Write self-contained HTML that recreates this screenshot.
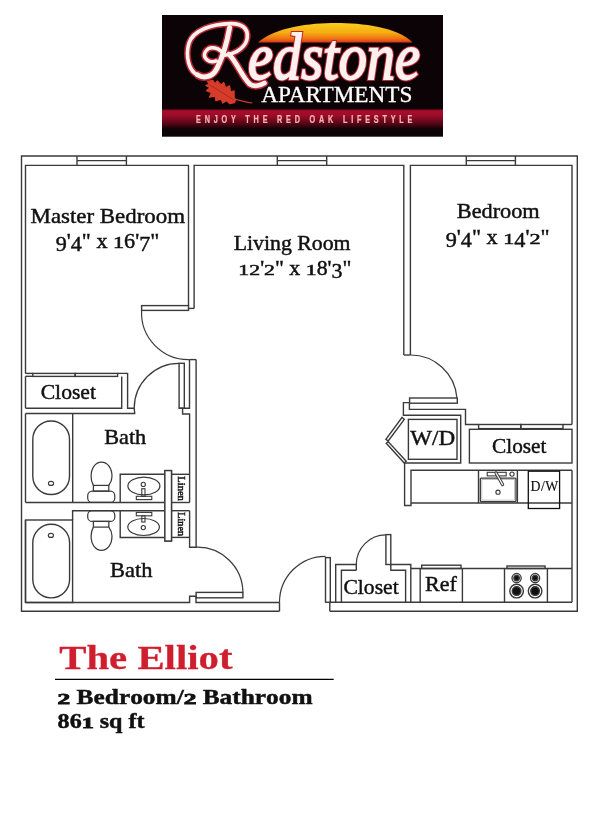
<!DOCTYPE html>
<html><head><meta charset="utf-8"><style>
html,body{margin:0;padding:0;background:#fff;width:608px;height:824px;overflow:hidden}
svg{display:block;will-change:transform}
</style></head><body>
<svg width="608" height="824" viewBox="0 0 608 824">
<rect width="608" height="824" fill="#fff"/>

<defs>
 <linearGradient id="sun" x1="0" y1="0" x2="0" y2="1">
  <stop offset="0" stop-color="#f9cf1e"/>
  <stop offset="0.5" stop-color="#f6ac12"/>
  <stop offset="0.82" stop-color="#ee6c14"/>
  <stop offset="1" stop-color="#d83418"/>
 </linearGradient>
 <linearGradient id="band" x1="0" y1="0" x2="0" y2="1">
  <stop offset="0" stop-color="#40040f"/>
  <stop offset="0.1" stop-color="#a80e2c"/>
  <stop offset="0.35" stop-color="#9a0c28"/>
  <stop offset="0.75" stop-color="#500616"/>
  <stop offset="1" stop-color="#100204"/>
 </linearGradient>
 <filter id="glow" x="-10%" y="-20%" width="120%" height="140%">
  <feGaussianBlur stdDeviation="0.7"/>
 </filter>
</defs>
<rect x="162" y="15" width="281" height="121.7" fill="#0b0305"/>
<path d="M258,42.6 C275,27 310,23 336,23 C362,23 398,27 412.5,42.6 Z" fill="url(#sun)"/>
<rect x="162" y="109" width="281" height="20" fill="url(#band)"/>
<g fill="none" stroke="#b82630" stroke-linecap="round" filter="url(#glow)"><path d="M197.8,75 C188.9,71.3 185.2,56.5 188.9,43.2 C193.3,29.8 212.6,23.9 230.3,23.6 C242.2,23.3 248.1,28.4 247.3,37.2 C246.6,46.1 237.7,53.5 224.4,55.3" stroke-width="6.6"/><path d="M229.6,27.6 C227.4,40.2 222.9,56.5 217,68.3 C212.6,77.2 203.7,78.7 197.8,75" stroke-width="8"/><path d="M224.4,55.3 C220,47.6 209.6,44.6 205.2,52 C202.2,58 209.6,63.9 216.3,60.9" stroke-width="6.4"/><path d="M228.8,54.3 C236.2,60.9 242.2,77.2 249.6,83.9 C254,86.8 259.9,86.1 264.4,83.1" stroke-width="7.8"/></g>
<g fill="none" stroke="#fdf0ee" stroke-linecap="round"><path d="M197.8,75 C188.9,71.3 185.2,56.5 188.9,43.2 C193.3,29.8 212.6,23.9 230.3,23.6 C242.2,23.3 248.1,28.4 247.3,37.2 C246.6,46.1 237.7,53.5 224.4,55.3" stroke-width="3.6"/><path d="M229.6,27.6 C227.4,40.2 222.9,56.5 217,68.3 C212.6,77.2 203.7,78.7 197.8,75" stroke-width="5"/><path d="M224.4,55.3 C220,47.6 209.6,44.6 205.2,52 C202.2,58 209.6,63.9 216.3,60.9" stroke-width="3.4"/><path d="M228.8,54.3 C236.2,60.9 242.2,77.2 249.6,83.9 C254,86.8 259.9,86.1 264.4,83.1" stroke-width="4.8"/></g>
<text x="248" y="78.5" font-family="Liberation Serif" font-style="italic" font-size="66" fill="none" stroke="#b82630" stroke-width="4.2" textLength="172" lengthAdjust="spacingAndGlyphs" filter="url(#glow)">edstone</text>
<text x="248" y="78.5" font-family="Liberation Serif" font-style="italic" font-size="66" fill="#fdf0ee" stroke="#fdf0ee" stroke-width="1.9" textLength="172" lengthAdjust="spacingAndGlyphs">edstone</text>
<text x="261.2" y="102.2" font-family="Liberation Serif" font-size="22.5" fill="#ffffff" stroke="#ffffff" stroke-width="0.3" textLength="151.2" lengthAdjust="spacingAndGlyphs">APARTMENTS</text>
<text transform="translate(196.1,122.6) scale(0.7,1)" x="0" y="0" font-family="Liberation Sans" font-weight="bold" font-size="10.4" fill="#f6b4b4" stroke="#f6b4b4" stroke-width="0.25" textLength="309" lengthAdjust="spacing">ENJOY THE RED OAK LIFESTYLE</text>
<path d="M207.4,81.4 L212.8,80.4 L214.8,83.9 L217.3,80.9 L221.2,84.9 L223.7,82.4 L225.7,87.8 L229.6,85.9 L230.6,91.8 L234.1,90.8 L234.1,97.2 L235.5,99.7 L234.6,102.7 L229.6,103.6 L226.7,100.7 L222.7,103.1 L221.2,99.2 L215.8,100.7 L215.3,96.2 L209.4,97.2 L211.4,92.8 L206.4,90.8 L209.9,87.8 L205.9,85.4 L209.4,84.4 Z" fill="#d63c2a" stroke="#d63c2a" stroke-width="1.2" stroke-linejoin="round"/>
<path d="M210,85 L234,100" stroke="#9a2418" stroke-width="0.7" fill="none"/>
<path d="M233.6,98.7 C240,100.5 246,102.5 252.3,102.9" stroke="#c83a2a" stroke-width="1.3" fill="none"/>

<g fill="none" stroke="#3a3a3a" stroke-width="1.4" stroke-linejoin="miter">
<path d="M279.5,611.2 L21.5,611.2 L21.5,156 L577.3,156 L577.3,611.2 L329.8,611.2"/>
<path d="M279.5,602.3 L279.5,611.2"/>
<path d="M329.8,602.2 L329.8,611.2"/>
<path d="M25.5,373.4 L25.5,165.4 L188.5,165.4 L188.5,305.6"/>
<path d="M25.5,376.3 L25.5,408.2"/>
<path d="M25.5,413.5 L25.5,502.4"/>
<path d="M25.5,520 L25.5,602.5"/>
<path d="M194.1,308.4 L194.1,165.4 L403.8,165.4 L403.8,355"/>
<path d="M410.4,355 L410.4,165.4 L572,165.4 L572,424.5"/>
<path d="M572,470.3 L572,602.2"/>
<path d="M403.8,355 L410.4,355"/>
<path d="M188.5,308.4 L194.1,308.4"/>
<path d="M77,156 L77,165.4"/>
<path d="M126.4,156 L126.4,165.4"/>
<path d="M77,160.6 L126.4,160.6" stroke-width="1.1"/>
<path d="M277.3,156 L277.3,165.4"/>
<path d="M326.7,156 L326.7,165.4"/>
<path d="M277.3,160.6 L326.7,160.6" stroke-width="1.1"/>
<path d="M466.3,156 L466.3,165.4"/>
<path d="M515.4,156 L515.4,165.4"/>
<path d="M466.3,160.6 L515.4,160.6" stroke-width="1.1"/>
<path d="M25.5,602.5 L189.6,602.5 L189.6,596.3 L196,596.3 L196,602.5 L279.5,602.5"/>
<path d="M329.8,602.2 L572,602.2"/>
<rect x="141.6" y="305.6" width="46.9" height="4.8"/>
<path d="M141.6,310.4 A46.9,46.9 0 0 0 189.4,359.6" stroke-width="1.2"/>
<path d="M189.5,359.6 L196.1,359.6"/>
<path d="M196.1,359.6 L196.1,547.2 L189.6,547.2 L189.6,510.7"/>
<path d="M189.6,502.4 L189.6,414 L182.6,414 L182.6,408.2"/>
<path d="M189.5,359.6 L189.5,408.2 L179.1,408.2"/>
<rect x="179.1" y="363.3" width="5.2" height="44.9"/>
<path d="M179.1,363.3 A44.9,44.9 0 0 0 134.2,408.2" stroke-width="1.2"/>
<path d="M25.5,373.4 L32.8,373.4"/>
<path d="M25.5,376.3 L32.8,376.3"/>
<rect x="32.8" y="373.4" width="42.4" height="3.0"/>
<rect x="75.2" y="373.4" width="42.4" height="3.0"/>
<path d="M117.6,373.4 L127.6,373.4 L127.6,408.2 L134.2,408.2 L134.7,413.5 L25.5,413.5"/>
<path d="M25.5,408.2 L121.7,408.2 L121.7,376.4"/>
<path d="M72.7,413.5 L72.7,502.5"/>
<path d="M25.5,502.5 L164.9,502.5"/>
<path d="M171.5,502.5 L189.6,502.5"/>
<rect x="32.8" y="421" width="36.7" height="73.5" rx="18.3"/>
<ellipse cx="51" cy="483.4" rx="2.6" ry="2.0" stroke-width="1.1"/>
<path d="M93.4,485.4 C91.6,482.5 91.1,479.5 91.1,476.5 C91.1,468 95.5,462.1 101.5,462.1 C107.5,462.1 112,468 112,476.5 C112,479.5 111,482.5 108.8,485.4" stroke-width="1.25"/>
<rect x="93.4" y="485.4" width="15.4" height="5.8" stroke-width="1.25"/>
<rect x="87.7" y="491.2" width="27.1" height="11.2" rx="4.5" stroke-width="1.25"/>
<path d="M120.2,502.4 L120.2,474.3 L164.9,474.3"/>
<ellipse cx="143.9" cy="486" rx="16" ry="8.8" stroke-width="1.2"/>
<ellipse cx="143.3" cy="484.4" rx="2.1" ry="2.1" stroke-width="1.1"/>
<rect x="141.8" y="488.7" width="3.2" height="7.7" stroke-width="1.1"/>
<rect x="136.3" y="496.3" width="15.5" height="3.3" stroke-width="1.1"/>
<rect x="164.9" y="470.6" width="6.6" height="70.4" fill="#fff"/>
<path d="M171.5,474.3 L189.6,474.3"/>
<path d="M72.6,520 L72.6,510.7 L164.9,510.7"/>
<path d="M171.5,510.7 L189.6,510.7"/>
<rect x="25.5" y="520" width="47.1" height="82.5"/>
<rect x="32.8" y="524.3" width="36.8" height="73.6" rx="18.3"/>
<ellipse cx="50.9" cy="535.4" rx="2.6" ry="2.0" stroke-width="1.1"/>
<rect x="87.7" y="510.7" width="27.1" height="10.7" rx="4.5" stroke-width="1.25"/>
<rect x="93.4" y="521.4" width="15.4" height="5.7" stroke-width="1.25"/>
<path d="M93.4,527.1 C91.6,530 91.1,533 91.1,536 C91.1,544.5 95.5,550.3 101.5,550.3 C107.5,550.3 112,544.5 112,536 C112,533 111,530 108.8,527.1" stroke-width="1.25"/>
<path d="M120.2,510.7 L120.2,537.5 L164.9,537.5"/>
<ellipse cx="143.6" cy="527" rx="15.8" ry="8.5" stroke-width="1.2"/>
<ellipse cx="143.3" cy="527.6" rx="2.1" ry="2.1" stroke-width="1.1"/>
<rect x="141.8" y="515.8" width="3.2" height="6.2" stroke-width="1.1"/>
<rect x="136.3" y="512.4" width="15.5" height="3.4" stroke-width="1.1"/>
<path d="M171.5,537.4 L189.6,537.4"/>
<rect x="164.9" y="470.6" width="6.6" height="70.4" fill="#fff"/>
<path d="M196.1,547.2 A45.6,45.6 0 0 1 242.9,592.4" stroke-width="1.2"/>
<rect x="196.1" y="592.4" width="46.8" height="5.4"/>
<path d="M410.4,355 A46.5,46.5 0 0 1 456.9,397.8" stroke-width="1.2"/>
<rect x="409.6" y="398" width="47.7" height="5.2"/>
<path d="M409.6,402.6 L403.4,402.6 L403.4,415.3 L460.7,415.3 L460.7,463 L404.6,463 L404.6,505.5 L411,505.5 L411,470.3 L572,470.3"/>
<path d="M409.4,403.2 L409.4,409.4 L465.5,409.4 L465.5,424.5 L478.6,424.5"/>
<rect x="408.4" y="419.4" width="48.6" height="39.9"/>
<path d="M402.1,417.4 L404.3,419.4 L388.2,441 L385.9,439.3 Z"/>
<path d="M386.3,443.2 L388.2,441.6 L406.2,461.3 L404.2,463 Z"/>
<rect x="478.6" y="424.5" width="42.2" height="4.1"/>
<rect x="520.8" y="424.5" width="42.2" height="4.1"/>
<path d="M563,424.5 L572,424.5"/>
<rect x="469.4" y="429.3" width="102.6" height="33.7"/>
<path d="M411,503 L572,503"/>
<path d="M478.5,470.3 L478.5,503"/>
<path d="M517.4,470.3 L517.4,503"/>
<rect x="480.3" y="478.1" width="35.7" height="23.5" rx="1" stroke-width="1.3"/>
<rect x="481.8" y="479.6" width="32.7" height="20.5" stroke-width="0.7" stroke="#aaa"/>
<rect x="487.2" y="472.3" width="19.0" height="3.6" stroke-width="1.1"/>
<path d="M496,473 L502.6,484.6" stroke-width="3.2" stroke-linecap="round"/>
<path d="M496,473 L502.6,484.6" stroke-width="1.2" stroke="#fff" stroke-linecap="round"/>
<ellipse cx="512" cy="474.1" rx="2.1" ry="2.1" stroke-width="1.1"/>
<ellipse cx="498" cy="492.2" rx="2.1" ry="2.1" stroke-width="1.1"/>
<rect x="528.3" y="471.2" width="31.3" height="37.3" stroke-width="1.3" stroke="#111"/>
<rect x="325.5" y="557.6" width="4.8" height="44.6"/>
<path d="M279.5,602.3 A46,46 0 0 1 325.5,556.3" stroke-width="1.2"/>
<path d="M356.3,570.2 L356.3,564.5 L335.7,564.5 L335.7,602.2"/>
<path d="M356.3,570.2 L341.4,570.2 L341.4,602.2"/>
<path d="M390.8,564.5 L410.8,564.5 L410.8,602.2"/>
<path d="M390.8,564.5 L390.8,570.2 L405.6,570.2 L405.6,602.2"/>
<rect x="385.9" y="534.6" width="4.9" height="29.9"/>
<path d="M356.3,564.5 A29.6,29.6 0 0 1 385.9,534.9" stroke-width="1.2"/>
<path d="M410.8,568.5 L572,568.5"/>
<path d="M420.2,568.5 L420.2,602.2"/>
<path d="M462.4,568.5 L462.4,602.2"/>
<rect x="421.7" y="565.2" width="39.3" height="3.3"/>
<path d="M504.5,568.5 L504.5,602.2"/>
<path d="M547.4,568.5 L547.4,602.2"/>
<rect x="507" y="566" width="38" height="2.5"/>
<ellipse cx="516.6" cy="578.1" rx="4.6" ry="4.6" stroke-width="1.3"/>
<ellipse cx="516.6" cy="578.1" rx="2.7" ry="2.7" fill="#111"/>
<ellipse cx="516.6" cy="591.1" rx="6.8" ry="6.8" stroke-width="1.4"/>
<ellipse cx="516.6" cy="591.1" rx="4.3" ry="4.3" fill="#111"/>
<ellipse cx="535.1" cy="578.1" rx="4.6" ry="4.6" stroke-width="1.3"/>
<ellipse cx="535.1" cy="578.1" rx="2.7" ry="2.7" fill="#111"/>
<ellipse cx="535.1" cy="591.1" rx="6.8" ry="6.8" stroke-width="1.4"/>
<ellipse cx="535.1" cy="591.1" rx="4.3" ry="4.3" fill="#111"/>
</g>
<g>
<text x="30.6" y="222.9" font-family="Liberation Serif" font-size="21" font-weight="normal" fill="#111" textLength="154.4" lengthAdjust="spacingAndGlyphs" stroke="#111" stroke-width="0.45">Master Bedroom</text>
<g font-family="Liberation Serif" fill="#111" stroke="#111" stroke-width="0.45"><text transform="translate(55.70,251.20) scale(1.0544,1.000)" font-size="21" font-weight="normal">9</text><text transform="translate(66.77,247.90) scale(1.0544,1.000)" font-size="21" font-weight="normal">'</text><text transform="translate(70.76,251.20) scale(1.0544,1.000)" font-size="21" font-weight="normal">4</text><text transform="translate(81.83,247.90) scale(1.0544,1.000)" font-size="21" font-weight="normal">&quot;</text><text transform="translate(96.41,247.90) scale(1.0544,1.000)" font-size="21" font-weight="normal">x</text><text transform="translate(113.02,247.90) scale(1.0544,0.750)" font-size="21" font-weight="normal" stroke-width="0.70">1</text><text transform="translate(124.09,247.90) scale(1.0544,1.000)" font-size="21" font-weight="normal">6</text><text transform="translate(135.16,247.90) scale(1.0544,1.000)" font-size="21" font-weight="normal">'</text><text transform="translate(139.15,251.20) scale(1.0544,1.000)" font-size="21" font-weight="normal">7</text><text transform="translate(150.22,247.90) scale(1.0544,1.000)" font-size="21" font-weight="normal">&quot;</text></g>
<text x="233.7" y="249.9" font-family="Liberation Serif" font-size="21" font-weight="normal" fill="#111" textLength="116.8" lengthAdjust="spacingAndGlyphs" stroke="#111" stroke-width="0.45">Living Room</text>
<g font-family="Liberation Serif" fill="#111" stroke="#111" stroke-width="0.45"><text transform="translate(238.30,274.70) scale(1.0400,0.730)" font-size="21" font-weight="normal" stroke-width="0.70">1</text><text transform="translate(249.22,274.70) scale(1.0400,0.730)" font-size="21" font-weight="normal" stroke-width="0.70">2</text><text transform="translate(260.14,274.70) scale(1.0400,1.000)" font-size="21" font-weight="normal">'</text><text transform="translate(264.07,274.70) scale(1.0400,0.730)" font-size="21" font-weight="normal" stroke-width="0.70">2</text><text transform="translate(274.99,274.70) scale(1.0400,1.000)" font-size="21" font-weight="normal">&quot;</text><text transform="translate(289.37,274.70) scale(1.0400,1.000)" font-size="21" font-weight="normal">x</text><text transform="translate(305.75,274.70) scale(1.0400,0.730)" font-size="21" font-weight="normal" stroke-width="0.70">1</text><text transform="translate(316.67,274.70) scale(1.0400,1.000)" font-size="21" font-weight="normal">8</text><text transform="translate(327.59,274.70) scale(1.0400,1.000)" font-size="21" font-weight="normal">'</text><text transform="translate(331.53,278.30) scale(1.0400,1.000)" font-size="21" font-weight="normal">3</text><text transform="translate(342.45,274.70) scale(1.0400,1.000)" font-size="21" font-weight="normal">&quot;</text></g>
<text x="456.8" y="218.3" font-family="Liberation Serif" font-size="20.5" font-weight="normal" fill="#111" textLength="82.9" lengthAdjust="spacingAndGlyphs" stroke="#111" stroke-width="0.45">Bedroom</text>
<g font-family="Liberation Serif" fill="#111" stroke="#111" stroke-width="0.45"><text transform="translate(445.70,247.40) scale(1.0843,1.000)" font-size="20.5" font-weight="normal">9</text><text transform="translate(456.81,244.30) scale(1.0843,1.000)" font-size="20.5" font-weight="normal">'</text><text transform="translate(460.82,247.40) scale(1.0843,1.000)" font-size="20.5" font-weight="normal">4</text><text transform="translate(471.93,244.30) scale(1.0843,1.000)" font-size="20.5" font-weight="normal">&quot;</text><text transform="translate(486.57,244.30) scale(1.0843,1.000)" font-size="20.5" font-weight="normal">x</text><text transform="translate(503.24,244.30) scale(1.0843,0.740)" font-size="20.5" font-weight="normal" stroke-width="0.70">1</text><text transform="translate(514.35,247.40) scale(1.0843,1.000)" font-size="20.5" font-weight="normal">4</text><text transform="translate(525.47,244.30) scale(1.0843,1.000)" font-size="20.5" font-weight="normal">'</text><text transform="translate(529.47,244.30) scale(1.0843,0.740)" font-size="20.5" font-weight="normal" stroke-width="0.70">2</text><text transform="translate(540.59,244.30) scale(1.0843,1.000)" font-size="20.5" font-weight="normal">&quot;</text></g>
<text x="40.7" y="398.5" font-family="Liberation Serif" font-size="21.5" font-weight="normal" fill="#111" textLength="55.3" lengthAdjust="spacingAndGlyphs" stroke="#111" stroke-width="0.45">Closet</text>
<text x="104.2" y="443.6" font-family="Liberation Serif" font-size="21.5" font-weight="normal" fill="#111" textLength="42.0" lengthAdjust="spacingAndGlyphs" stroke="#111" stroke-width="0.45">Bath</text>
<text x="110.1" y="576.6" font-family="Liberation Serif" font-size="21.5" font-weight="normal" fill="#111" textLength="42.3" lengthAdjust="spacingAndGlyphs" stroke="#111" stroke-width="0.45">Bath</text>
<text x="410.3" y="444.5" font-family="Liberation Serif" font-size="21.5" font-weight="normal" fill="#111" textLength="44.9" lengthAdjust="spacingAndGlyphs" stroke="#111" stroke-width="0.45">W/D</text>
<text x="492" y="452.7" font-family="Liberation Serif" font-size="22" font-weight="normal" fill="#111" textLength="54.5" lengthAdjust="spacingAndGlyphs" stroke="#111" stroke-width="0.45">Closet</text>
<text x="530.6" y="490.8" font-family="Liberation Serif" font-size="13.8" fill="#111" stroke="#111" stroke-width="0.15" textLength="27.6" lengthAdjust="spacing">D/W</text>
<text x="343.4" y="593.75" font-family="Liberation Serif" font-size="22" font-weight="normal" fill="#111" textLength="55.3" lengthAdjust="spacingAndGlyphs" stroke="#111" stroke-width="0.45">Closet</text>
<text x="425" y="591.4" font-family="Liberation Serif" font-size="22" font-weight="normal" fill="#111" textLength="31.8" lengthAdjust="spacingAndGlyphs" stroke="#111" stroke-width="0.45">Ref</text>
<text transform="translate(177.8,476.3) rotate(90)" x="0" y="0" font-family="Liberation Serif" font-size="10.3" fill="#111" textLength="24.6" lengthAdjust="spacingAndGlyphs" stroke="#111" stroke-width="0.45">Linen</text>
<text transform="translate(177.8,512.2) rotate(90)" x="0" y="0" font-family="Liberation Serif" font-size="10.3" fill="#111" textLength="24" lengthAdjust="spacingAndGlyphs" stroke="#111" stroke-width="0.45">Linen</text>
<text x="59.2" y="668.9" font-family="Liberation Serif" font-size="34.7" font-weight="bold" fill="#cf1f2f" textLength="173.4" lengthAdjust="spacingAndGlyphs" stroke="#cf1f2f" stroke-width="0.3">The Elliot</text>
<g font-family="Liberation Serif" fill="#111" stroke="#111" stroke-width="0.45"><text transform="translate(57.60,703.80) scale(1.1795,0.720)" font-size="21.5" font-weight="bold" stroke-width="1.15">2</text><text transform="translate(76.62,703.80) scale(1.1795,1.000)" font-size="21.5" font-weight="bold">B</text><text transform="translate(93.53,703.80) scale(1.1795,1.000)" font-size="21.5" font-weight="bold">e</text><text transform="translate(104.79,703.80) scale(1.1795,1.000)" font-size="21.5" font-weight="bold">d</text><text transform="translate(118.89,703.80) scale(1.1795,1.000)" font-size="21.5" font-weight="bold">r</text><text transform="translate(130.15,703.80) scale(1.1795,1.000)" font-size="21.5" font-weight="bold">o</text><text transform="translate(142.83,703.80) scale(1.1795,1.000)" font-size="21.5" font-weight="bold">o</text><text transform="translate(155.51,703.80) scale(1.1795,1.000)" font-size="21.5" font-weight="bold">m</text><text transform="translate(176.63,703.80) scale(1.1795,1.000)" font-size="21.5" font-weight="bold">/</text><text transform="translate(183.68,703.80) scale(1.1795,0.720)" font-size="21.5" font-weight="bold" stroke-width="1.15">2</text><text transform="translate(202.70,703.80) scale(1.1795,1.000)" font-size="21.5" font-weight="bold">B</text><text transform="translate(219.61,703.80) scale(1.1795,1.000)" font-size="21.5" font-weight="bold">a</text><text transform="translate(232.29,703.80) scale(1.1795,1.000)" font-size="21.5" font-weight="bold">t</text><text transform="translate(240.73,703.80) scale(1.1795,1.000)" font-size="21.5" font-weight="bold">h</text><text transform="translate(254.84,703.80) scale(1.1795,1.000)" font-size="21.5" font-weight="bold">r</text><text transform="translate(266.09,703.80) scale(1.1795,1.000)" font-size="21.5" font-weight="bold">o</text><text transform="translate(278.77,703.80) scale(1.1795,1.000)" font-size="21.5" font-weight="bold">o</text><text transform="translate(291.45,703.80) scale(1.1795,1.000)" font-size="21.5" font-weight="bold">m</text></g>
<g font-family="Liberation Serif" fill="#111" stroke="#111" stroke-width="0.45"><text transform="translate(57.60,727.90) scale(1.1189,1.000)" font-size="21.5" font-weight="bold">8</text><text transform="translate(69.63,727.90) scale(1.1189,1.000)" font-size="21.5" font-weight="bold">6</text><text transform="translate(81.66,727.90) scale(1.1189,0.720)" font-size="21.5" font-weight="bold" stroke-width="1.15">1</text><text transform="translate(99.70,727.90) scale(1.1189,1.000)" font-size="21.5" font-weight="bold">s</text><text transform="translate(109.06,727.90) scale(1.1189,1.000)" font-size="21.5" font-weight="bold">q</text><text transform="translate(128.45,727.90) scale(1.1189,1.000)" font-size="21.5" font-weight="bold">f</text><text transform="translate(136.46,727.90) scale(1.1189,1.000)" font-size="21.5" font-weight="bold">t</text></g>
</g>
<path d="M55,679.4 L333.7,679.4" stroke="#000" stroke-width="1.2"/>
</svg>
</body></html>
